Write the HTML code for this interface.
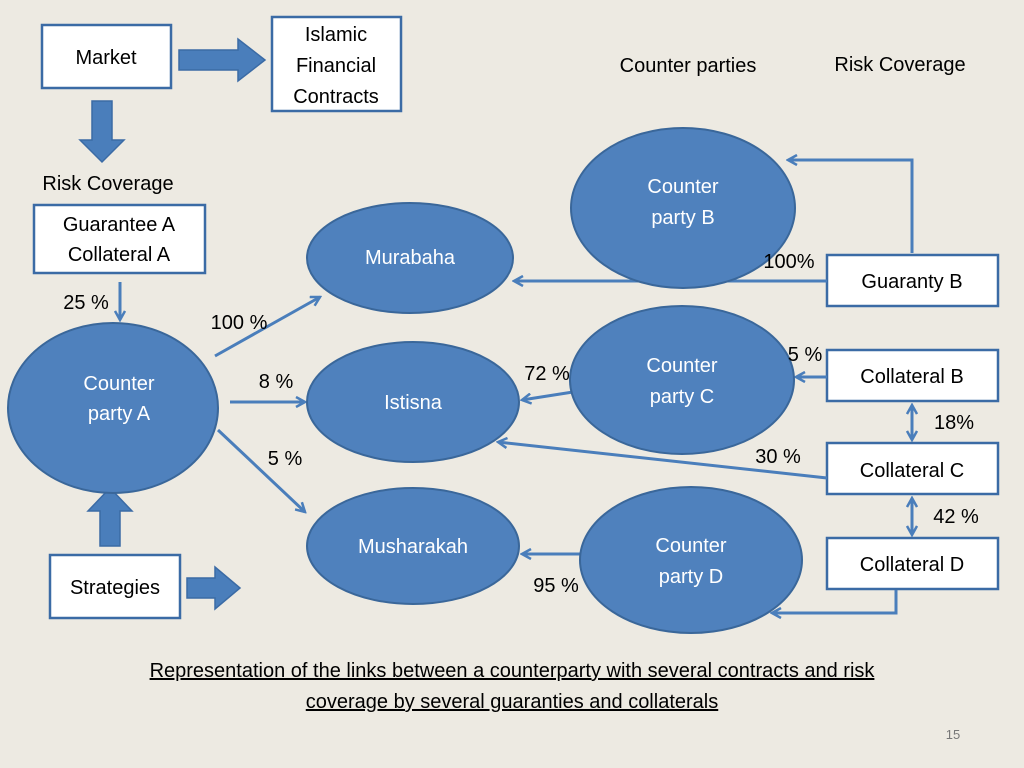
<!DOCTYPE html>
<html><head><meta charset="utf-8"><style>
body{margin:0;background:#EDEAE2;}
svg{display:block;font-family:"Liberation Sans",sans-serif;}
</style></head><body>
<svg width="1024" height="768" viewBox="0 0 1024 768" xmlns="http://www.w3.org/2000/svg">
<defs>
<marker id="a" markerWidth="12" markerHeight="12" refX="10" refY="6" orient="auto" markerUnits="userSpaceOnUse">
<path d="M1,1 L10,6 L1,11" fill="none" stroke="#4A7EBB" stroke-width="2.5"/></marker>
<marker id="s" markerWidth="12" markerHeight="12" refX="2" refY="6" orient="auto" markerUnits="userSpaceOnUse">
<path d="M11,1 L2,6 L11,11" fill="none" stroke="#4A7EBB" stroke-width="2.5"/></marker>
</defs>
<rect width="1024" height="768" fill="#EDEAE2"/>
<g fill="#fff" stroke="#3B6BA5" stroke-width="2.5">
<rect x="42" y="25" width="129" height="63"/>
<rect x="272" y="17" width="129" height="94"/>
<rect x="34" y="205" width="171" height="68"/>
<rect x="827" y="255" width="171" height="51"/>
<rect x="827" y="350" width="171" height="51"/>
<rect x="827" y="443" width="171" height="51"/>
<rect x="827" y="538" width="171" height="51"/>
<rect x="50" y="555" width="130" height="63"/>
</g>
<g fill="#4A7EBB" stroke="#3B6BA5" stroke-width="1.5">
<path d="M179,50 H238 V39 L265,60 L238,81 V70 H179 Z"/>
<path d="M92,101 H112 V140 H124 L102,162 L80,140 H92 Z"/>
<path d="M100,546 V511 H88 L110,488 L132,511 H120 V546 Z"/>
<path d="M187,578 H215 V567 L240,588 L215,609 V598 H187 Z"/>
</g>
<g fill="none" stroke="#4A7EBB" stroke-width="3">
<line x1="120" y1="282" x2="120" y2="320" marker-end="url(#a)"/>
<line x1="215" y1="356" x2="320" y2="297" marker-end="url(#a)"/>
<line x1="230" y1="402" x2="305" y2="402" marker-end="url(#a)"/>
<line x1="218" y1="430" x2="305" y2="512" marker-end="url(#a)"/>
<polyline points="912,253 912,160 788,160" marker-end="url(#a)"/>
<line x1="827" y1="281" x2="514" y2="281" marker-end="url(#a)"/>
<line x1="827" y1="377" x2="796" y2="377" marker-end="url(#a)"/>
<line x1="573" y1="392" x2="522" y2="400" marker-end="url(#a)"/>
<line x1="827" y1="478" x2="498" y2="442" marker-end="url(#a)"/>
<line x1="580" y1="554" x2="522" y2="554" marker-end="url(#a)"/>
<polyline points="896,590 896,613 772,613" marker-end="url(#a)"/>
<line x1="912" y1="405" x2="912" y2="440" marker-start="url(#s)" marker-end="url(#a)"/>
<line x1="912" y1="498" x2="912" y2="535" marker-start="url(#s)" marker-end="url(#a)"/>
</g>
<g fill="#4F81BD" stroke="#3A679A" stroke-width="2">
<ellipse cx="113" cy="408" rx="105" ry="85"/>
<ellipse cx="410" cy="258" rx="103" ry="55"/>
<ellipse cx="413" cy="402" rx="106" ry="60"/>
<ellipse cx="413" cy="546" rx="106" ry="58"/>
<ellipse cx="683" cy="208" rx="112" ry="80"/>
<ellipse cx="682" cy="380" rx="112" ry="74"/>
<ellipse cx="691" cy="560" rx="111" ry="73"/>
</g>
<g font-size="20" fill="#fff" text-anchor="middle">
<text x="119" y="390">Counter</text><text x="119" y="420">party A</text>
<text x="410" y="264">Murabaha</text>
<text x="413" y="409">Istisna</text>
<text x="413" y="553">Musharakah</text>
<text x="683" y="193">Counter</text><text x="683" y="224">party B</text>
<text x="682" y="372">Counter</text><text x="682" y="403">party C</text>
<text x="691" y="552">Counter</text><text x="691" y="583">party D</text>
</g>
<g font-size="20" fill="#000" text-anchor="middle">
<text x="106" y="64">Market</text>
<text x="336" y="41">Islamic</text><text x="336" y="72">Financial</text><text x="336" y="103">Contracts</text>
<text x="119" y="231">Guarantee A</text><text x="119" y="261">Collateral A</text>
<text x="912" y="288">Guaranty B</text>
<text x="912" y="383">Collateral B</text>
<text x="912" y="477">Collateral C</text>
<text x="912" y="571">Collateral D</text>
<text x="115" y="594">Strategies</text>
<text x="688" y="72">Counter parties</text>
<text x="900" y="71">Risk Coverage</text>
<text x="108" y="190">Risk Coverage</text>
<text x="86" y="309">25 %</text>
<text x="239" y="329">100 %</text>
<text x="276" y="388">8 %</text>
<text x="285" y="465">5 %</text>
<text x="789" y="268">100%</text>
<text x="805" y="361">5 %</text>
<text x="547" y="380">72 %</text>
<text x="954" y="429">18%</text>
<text x="778" y="463">30 %</text>
<text x="956" y="523">42 %</text>
<text x="556" y="592">95 %</text>
<text x="512" y="677" text-decoration="underline">Representation of the links between a counterparty with several contracts and risk</text>
<text x="512" y="708" text-decoration="underline">coverage by several guaranties and collaterals</text>
</g>
<text x="953" y="739" font-size="13" fill="#777" text-anchor="middle">15</text>
</svg>
</body></html>
